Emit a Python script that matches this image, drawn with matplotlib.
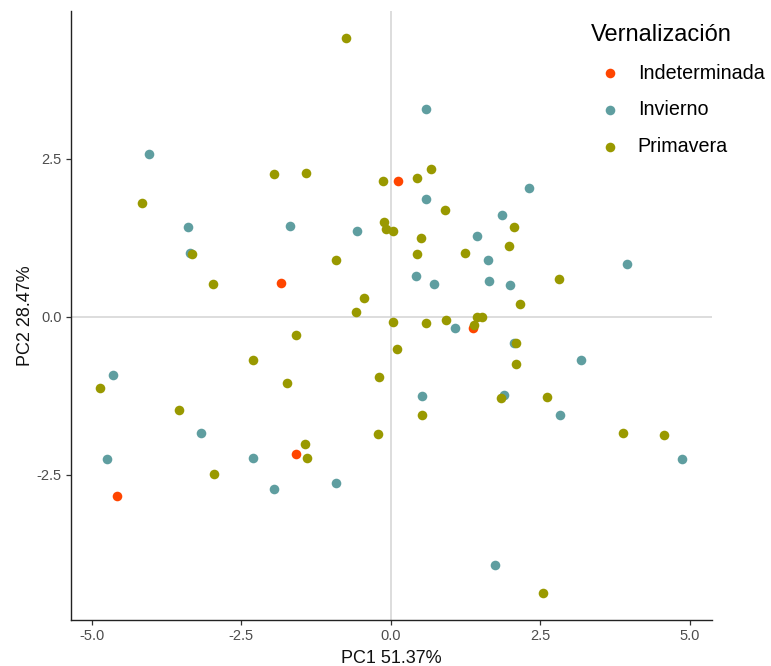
import matplotlib
matplotlib.use("Agg")
import matplotlib.pyplot as plt

plt.rcParams['font.family'] = ['Liberation Sans', 'DejaVu Sans']

# PCA scores by group (PC1, PC2)
indet_x = [0.12, -1.84, 1.37, -1.58, -4.58]
indet_y = [2.15, 0.53, -0.18, -2.17, -2.83]

invierno_x = [-4.04, -3.39, -1.69, -0.56, -3.36, 0.59, 2.32, 0.59, 1.86, 1.44,
              1.63, 3.96, 0.42, 0.73, 1.65, 2.00, -4.65, -3.18, -4.75, -2.31,
              -1.95, -0.92, 1.07, 2.07, 3.19, 0.52, 1.90, 2.83, 4.87, 1.75]
invierno_y = [2.57, 1.42, 1.44, 1.35, 1.01, 3.28, 2.03, 1.86, 1.60, 1.28,
              0.89, 0.83, 0.65, 0.51, 0.57, 0.50, -0.93, -1.84, -2.25, -2.23,
              -2.73, -2.63, -0.18, -0.41, -0.69, -1.25, -1.24, -1.56, -2.25, -3.93]

primavera_x = [-0.75, -1.95, -1.42, -0.13, -4.17, -0.11, -0.08, 0.03, -3.32, -0.92,
               -2.98, -0.44, -0.58, 0.44, 0.67, 0.90, 2.07, 0.50, 1.98, 0.44,
               1.25, 2.82, 2.17, 1.44, 1.52, 0.04, 0.10, -1.58, -2.31, -1.73,
               -0.19, -4.87, -3.54, -0.21, -1.43, -1.40, -2.96, 0.59, 0.92, 1.40,
               2.10, 2.10, 0.52, 1.85, 2.61, 3.88, 4.58, 2.54]
primavera_y = [4.40, 2.25, 2.27, 2.15, 1.80, 1.50, 1.38, 1.35, 0.99, 0.89,
               0.51, 0.30, 0.08, 2.19, 2.33, 1.68, 1.42, 1.25, 1.12, 0.99,
               1.01, 0.59, 0.20, 0.00, 0.00, -0.08, -0.52, -0.29, -0.69, -1.05,
               -0.95, -1.13, -1.48, -1.86, -2.02, -2.23, -2.49, -0.10, -0.06, -0.14,
               -0.42, -0.75, -1.56, -1.29, -1.27, -1.84, -1.88, -4.37]

groups = ['Indeterminada', 'Invierno', 'Primavera']
colors = ['#FF4500', '#5F9EA0', '#999900']

fig = plt.figure(figsize=(7.71, 6.66), dpi=100)
ax = fig.add_axes([0.0921, 0.069, 0.831, 0.915])

ax.axhline(0, color='#D3D3D3', lw=1.1, zorder=0)
ax.axvline(0, color='#D3D3D3', lw=1.1, zorder=0)

data = [(indet_x, indet_y), (invierno_x, invierno_y), (primavera_x, primavera_y)]
for (xs, ys), g, c in zip(data, groups, colors):
    ax.scatter(xs, ys, s=48, color=c, linewidths=0, label=g, zorder=3)

ax.set_xlim(-5.35, 5.37)
ax.set_ylim(-4.80, 4.84)
ax.set_xticks([-5.0, -2.5, 0.0, 2.5, 5.0])
ax.set_yticks([-2.5, 0.0, 2.5])
ax.xaxis.set_major_formatter(matplotlib.ticker.FormatStrFormatter('%.1f'))
ax.yaxis.set_major_formatter(matplotlib.ticker.FormatStrFormatter('%.1f'))

for s in ['top', 'right']:
    ax.spines[s].set_visible(False)
for s in ['left', 'bottom']:
    ax.spines[s].set_color('#222222')
    ax.spines[s].set_linewidth(1.0)
ax.tick_params(length=3.5, width=0.9, color='#333333', labelcolor='#4D4D4D',
               labelsize=10.5, pad=3)

ax.set_xlabel('PC1 51.37%', fontsize=13, color='#111111', labelpad=5)
ax.set_ylabel('PC2 28.47%', fontsize=13, color='#111111', labelpad=2)

leg = ax.legend(loc='upper left', bbox_to_anchor=(0.748, 0.985),
                bbox_transform=fig.transFigure, frameon=False,
                title='Vernalización', fontsize=14.2, title_fontsize=17,
                handletextpad=0.4, labelspacing=0.9, markerscale=1.0,
                borderpad=0.2)
leg._legend_box.align = 'left'

fig.savefig('out.png', dpi=100)
